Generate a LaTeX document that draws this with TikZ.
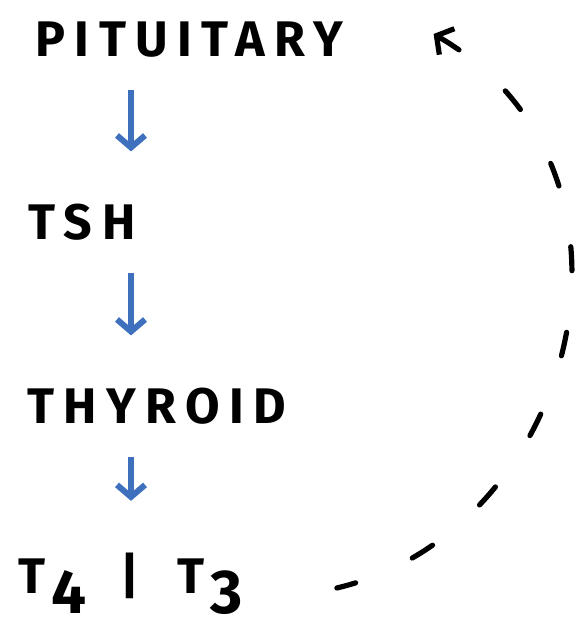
\documentclass[tikz,border=0pt]{standalone}
\usepackage{fontspec}
\setmainfont{Fira Sans}[LetterSpace=19]
\usepackage{xcolor}
\usetikzlibrary{arrows.meta}
\definecolor{flowblue}{RGB}{62,112,190}
\newcommand{\lowdigit}[1]{\kern3pt\raisebox{-0.75ex}{\fontsize{31}{31}\selectfont #1}}

\begin{document}
\begin{tikzpicture}[x=0.5pt, y=-0.5pt, font=\fontsize{25}{30}\selectfont\bfseries,
    label/.style={anchor=west, inner sep=0pt},
    flow/.style={flowblue, line width=3pt, -{Straight Barb[length=6pt, width=14pt]},
                 shorten <=16pt, shorten >=26pt},
    feedback/.style={line width=2.6pt, line cap=round, dash pattern=on 12pt off 31pt,
                     {Straight Barb[length=6pt, width=15pt]}-}]
    \useasboundingbox (0,0) rectangle (578,630);
    \node[label] (pit) at (35,40) {PITUITARY};
    \node[label] (tsh) at (28,222) {TSH};
    \node[label] (thy) at (27,406) {THYROID};
    \node[label] (t43) at (18,584) {T\lowdigit{4}\hspace{17pt}|\hspace{19pt}T\lowdigit{3}};
    \coordinate (axis) at (131,0);
    % hormone cascade
    \draw[flow] (pit.south -| axis) -- (tsh.north -| axis);
    \draw[flow] (tsh.south -| axis) -- (thy.north -| axis);
    \draw[flow] (thy.south -| axis) -- (t43.north -| axis);
    % negative feedback loop, drawn from its tip back to T4 | T3
    \draw[feedback] ([xshift=45pt, yshift=3pt]pit.east) .. controls (668,170) and (580,530) .. ([xshift=47pt, yshift=-2pt]t43.east);
\end{tikzpicture}
\end{document}
